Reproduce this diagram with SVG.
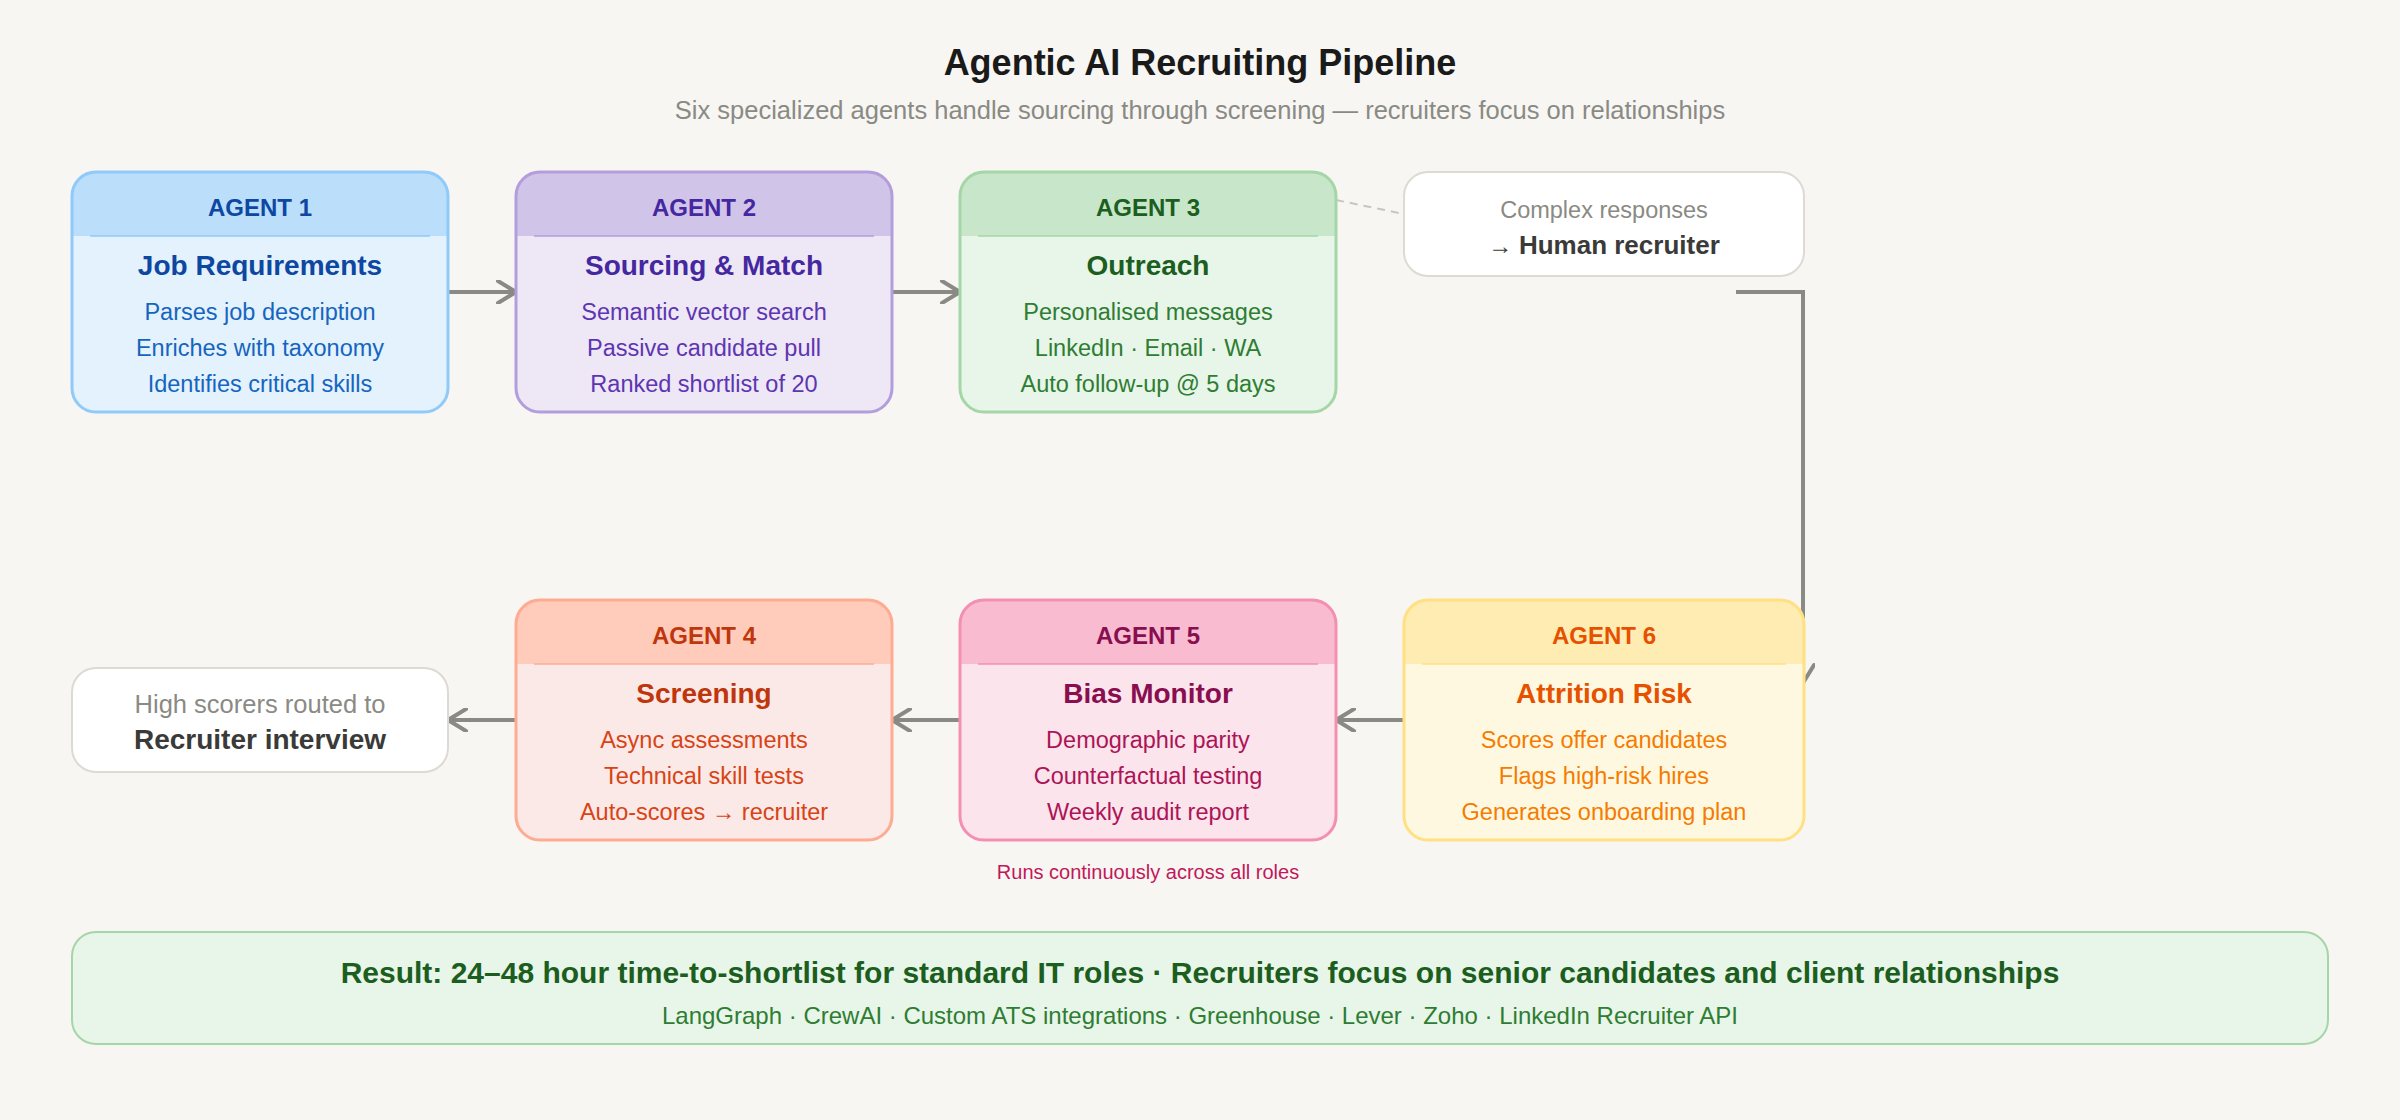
<svg xmlns="http://www.w3.org/2000/svg" width="2400" height="1120" viewBox="0 0 2400 1120">
<style>
text{font-family:"Liberation Sans",Arial,sans-serif;text-anchor:middle}
.ttl{font-size:36px;font-weight:bold;fill:#1a1a1a}
.sub{font-size:25.5px;fill:#8a8a84}
.ag{font-size:24px;font-weight:bold}
.nt{font-size:28px;font-weight:bold}
.ln{font-size:23.5px}
.outline{fill:none;stroke-width:3}
.conn{fill:none;stroke:#8a8a84;stroke-width:4}
.note{fill:#ffffff;stroke:#dcdad3;stroke-width:2}
</style>
<defs>
<marker id="arr" viewBox="0 0 24 24" refX="21" refY="12" markerWidth="24" markerHeight="24" markerUnits="userSpaceOnUse" orient="auto">
<path d="M3,1 L21,12 L3,23" fill="none" stroke="#8a8a84" stroke-width="4" stroke-linecap="round" stroke-linejoin="round"/>
</marker>
</defs>
<rect width="2400" height="1120" fill="#f7f6f2"/>
<text class="ttl" x="1200" y="75">Agentic AI Recruiting Pipeline</text>
<text class="sub" x="1200" y="119">Six specialized agents handle sourcing through screening — recruiters focus on relationships</text>

<g id="connectors">
<path class="conn" d="M448,292 H516" marker-end="url(#arr)"/>
<path class="conn" d="M892,292 H960" marker-end="url(#arr)"/>
<path d="M1336,200 L1404,214" fill="none" stroke="#c8c6c0" stroke-width="2" stroke-dasharray="8 6"/>
<path class="conn" d="M1736,292 H1803 V683" marker-end="url(#arr)"/>
<path class="conn" d="M1404,720 H1336" marker-end="url(#arr)"/>
<path class="conn" d="M960,720 H892" marker-end="url(#arr)"/>
<path class="conn" d="M516,720 H448" marker-end="url(#arr)"/>
</g>

<g id="agent1">
<rect x="72" y="172" width="376" height="240" rx="24" fill="#e3f2fd"/>
<path d="M72,236 V196 A24,24 0 0 1 96,172 H424 A24,24 0 0 1 448,196 V236 Z" fill="#bbdefb"/>
<line x1="90" y1="236" x2="430" y2="236" stroke="#90caf9" stroke-width="1.5"/>
<rect class="outline" x="72" y="172" width="376" height="240" rx="24" stroke="#90caf9"/>
<text class="ag" x="260" y="216" fill="#0d47a1">AGENT 1</text>
<text class="nt" x="260" y="275" fill="#0d47a1">Job Requirements</text>
<text class="ln" x="260" y="320" fill="#1565c0">Parses job description</text>
<text class="ln" x="260" y="356" fill="#1565c0">Enriches with taxonomy</text>
<text class="ln" x="260" y="392" fill="#1565c0">Identifies critical skills</text>
</g>

<g id="agent2">
<rect x="516" y="172" width="376" height="240" rx="24" fill="#ede7f6"/>
<path d="M516,236 V196 A24,24 0 0 1 540,172 H868 A24,24 0 0 1 892,196 V236 Z" fill="#d1c4e9"/>
<line x1="534" y1="236" x2="874" y2="236" stroke="#b39ddb" stroke-width="1.5"/>
<rect class="outline" x="516" y="172" width="376" height="240" rx="24" stroke="#b39ddb"/>
<text class="ag" x="704" y="216" fill="#4527a0">AGENT 2</text>
<text class="nt" x="704" y="275" fill="#4527a0">Sourcing &amp; Match</text>
<text class="ln" x="704" y="320" fill="#5e35b1">Semantic vector search</text>
<text class="ln" x="704" y="356" fill="#5e35b1">Passive candidate pull</text>
<text class="ln" x="704" y="392" fill="#5e35b1">Ranked shortlist of 20</text>
</g>

<g id="agent3">
<rect x="960" y="172" width="376" height="240" rx="24" fill="#e8f5e9"/>
<path d="M960,236 V196 A24,24 0 0 1 984,172 H1312 A24,24 0 0 1 1336,196 V236 Z" fill="#c8e6c9"/>
<line x1="978" y1="236" x2="1318" y2="236" stroke="#a5d6a7" stroke-width="1.5"/>
<rect class="outline" x="960" y="172" width="376" height="240" rx="24" stroke="#a5d6a7"/>
<text class="ag" x="1148" y="216" fill="#1b5e20">AGENT 3</text>
<text class="nt" x="1148" y="275" fill="#1b5e20">Outreach</text>
<text class="ln" x="1148" y="320" fill="#2e7d32">Personalised messages</text>
<text class="ln" x="1148" y="356" fill="#2e7d32">LinkedIn · Email · WA</text>
<text class="ln" x="1148" y="392" fill="#2e7d32">Auto follow-up @ 5 days</text>
</g>

<g id="human-recruiter">
<rect class="note" x="1404" y="172" width="400" height="104" rx="24"/>
<text x="1604" y="218" font-size="23.5" fill="#8a8a84">Complex responses</text>
<text x="1604" y="254" font-size="26" font-weight="bold" fill="#3a3a38"><tspan font-size="24" font-weight="normal">→ </tspan>Human recruiter</text>
</g>

<g id="agent6">
<rect x="1404" y="600" width="400" height="240" rx="24" fill="#fff8e1"/>
<path d="M1404,664 V624 A24,24 0 0 1 1428,600 H1780 A24,24 0 0 1 1804,624 V664 Z" fill="#ffecb3"/>
<line x1="1422" y1="664" x2="1786" y2="664" stroke="#ffe082" stroke-width="1.5"/>
<rect class="outline" x="1404" y="600" width="400" height="240" rx="24" stroke="#ffe082"/>
<text class="ag" x="1604" y="644" fill="#e65100">AGENT 6</text>
<text class="nt" x="1604" y="703" fill="#e65100">Attrition Risk</text>
<text class="ln" x="1604" y="748" fill="#f57c00">Scores offer candidates</text>
<text class="ln" x="1604" y="784" fill="#f57c00">Flags high-risk hires</text>
<text class="ln" x="1604" y="820" fill="#f57c00">Generates onboarding plan</text>
</g>

<g id="agent5">
<rect x="960" y="600" width="376" height="240" rx="24" fill="#fce4ec"/>
<path d="M960,664 V624 A24,24 0 0 1 984,600 H1312 A24,24 0 0 1 1336,624 V664 Z" fill="#f8bbd0"/>
<line x1="978" y1="664" x2="1318" y2="664" stroke="#f48fb1" stroke-width="1.5"/>
<rect class="outline" x="960" y="600" width="376" height="240" rx="24" stroke="#f48fb1"/>
<text class="ag" x="1148" y="644" fill="#880e4f">AGENT 5</text>
<text class="nt" x="1148" y="703" fill="#880e4f">Bias Monitor</text>
<text class="ln" x="1148" y="748" fill="#ad1457">Demographic parity</text>
<text class="ln" x="1148" y="784" fill="#ad1457">Counterfactual testing</text>
<text class="ln" x="1148" y="820" fill="#ad1457">Weekly audit report</text>
<text x="1148" y="879" font-size="20" fill="#c2185b">Runs continuously across all roles</text>
</g>

<g id="agent4">
<rect x="516" y="600" width="376" height="240" rx="24" fill="#fbe9e7"/>
<path d="M516,664 V624 A24,24 0 0 1 540,600 H868 A24,24 0 0 1 892,624 V664 Z" fill="#ffccbc"/>
<line x1="534" y1="664" x2="874" y2="664" stroke="#ffab91" stroke-width="1.5"/>
<rect class="outline" x="516" y="600" width="376" height="240" rx="24" stroke="#ffab91"/>
<text class="ag" x="704" y="644" fill="#bf360c">AGENT 4</text>
<text class="nt" x="704" y="703" fill="#bf360c">Screening</text>
<text class="ln" x="704" y="748" fill="#d84315">Async assessments</text>
<text class="ln" x="704" y="784" fill="#d84315">Technical skill tests</text>
<text class="ln" x="704" y="820" fill="#d84315">Auto-scores <tspan font-size="23.5">→</tspan> recruiter</text>
</g>

<g id="recruiter-interview">
<rect class="note" x="72" y="668" width="376" height="104" rx="24"/>
<text x="260" y="713" font-size="25.5" fill="#8a8a84">High scorers routed to</text>
<text x="260" y="749" font-size="28" font-weight="bold" fill="#3a3a38">Recruiter interview</text>
</g>

<g id="result">
<rect x="72" y="932" width="2256" height="112" rx="24" fill="#e8f5e9" stroke="#a5d6a7" stroke-width="2"/>
<text x="1200" y="983" font-size="30" font-weight="bold" fill="#1b5e20">Result: 24–48 hour time-to-shortlist for standard IT roles · Recruiters focus on senior candidates and client relationships</text>
<text x="1200" y="1024" font-size="24" fill="#2e7d32">LangGraph · CrewAI · Custom ATS integrations · Greenhouse · Lever · Zoho · LinkedIn Recruiter API</text>
</g>
</svg>
